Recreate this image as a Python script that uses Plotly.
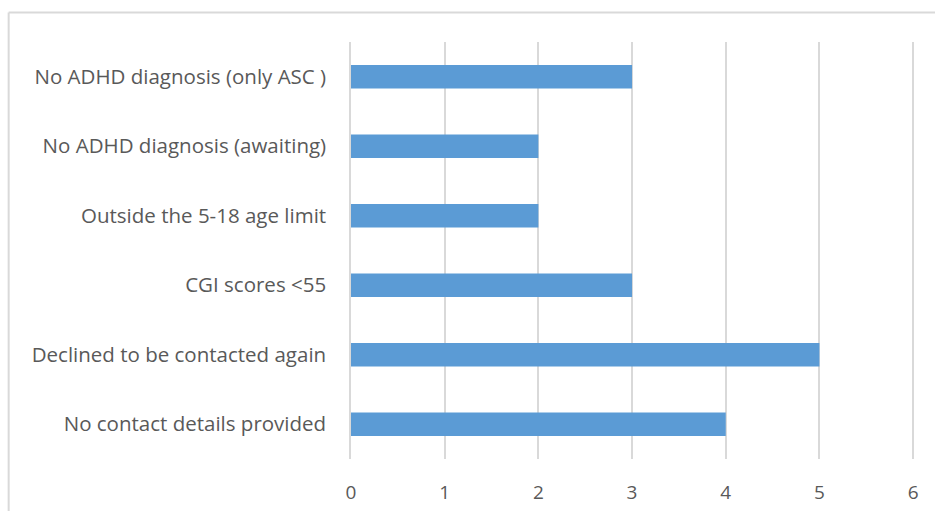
import plotly.graph_objects as go

# Reasons for exclusion and the number of cases for each
reasons = [
    "No contact details provided",
    "Declined to be contacted again",
    "CGI scores <55",
    "Outside the 5-18 age limit",
    "No ADHD diagnosis (awaiting)",
    "No ADHD diagnosis (only ASC )",
]
counts = [4, 5, 3, 2, 2, 3]
x_ticks = [0, 1, 2, 3, 4, 5, 6]

BAR = "#5B9BD5"
GRID = "#D9D9D9"
TEXT = "#595959"
FONT = "Open Sans, sans-serif"

fig = go.Figure(
    go.Bar(
        y=reasons,
        x=counts,
        orientation="h",
        marker=dict(color=BAR, line=dict(width=0)),
        width=0.34,
        hoverinfo="x+y",
    )
)

fig.update_layout(
    width=935,
    height=511,
    margin=dict(l=351, r=20, t=42, b=52),
    paper_bgcolor="white",
    plot_bgcolor="white",
    showlegend=False,
    font=dict(family=FONT, color=TEXT, size=20),
    xaxis=dict(
        range=[0, 6.02],
        tickvals=x_ticks,
        ticktext=[str(v) for v in x_ticks],
        showgrid=True,
        gridcolor=GRID,
        gridwidth=1.5,
        zeroline=False,
        showline=False,
        ticks="",
        ticklabelstandoff=20,
        automargin=False,
        tickfont=dict(size=19, color=TEXT),
    ),
    yaxis=dict(
        range=[-0.5, 5.5],
        showgrid=False,
        zeroline=False,
        showline=True,
        linecolor=GRID,
        linewidth=1.5,
        ticks="",
        ticklabelstandoff=19,
        automargin=False,
        tickfont=dict(size=20.5, color=TEXT),
    ),
    shapes=[
        # outer chart frame (top and left edges)
        dict(type="line", xref="paper", yref="paper",
             x0=-0.607, x1=1.05, y0=1.0707, y1=1.0707,
             line=dict(color=GRID, width=2)),
        dict(type="line", xref="paper", yref="paper",
             x0=-0.607, x1=-0.607, y0=1.0707, y1=-0.14,
             line=dict(color=GRID, width=2)),
    ],
)

fig.write_html("out.html")
